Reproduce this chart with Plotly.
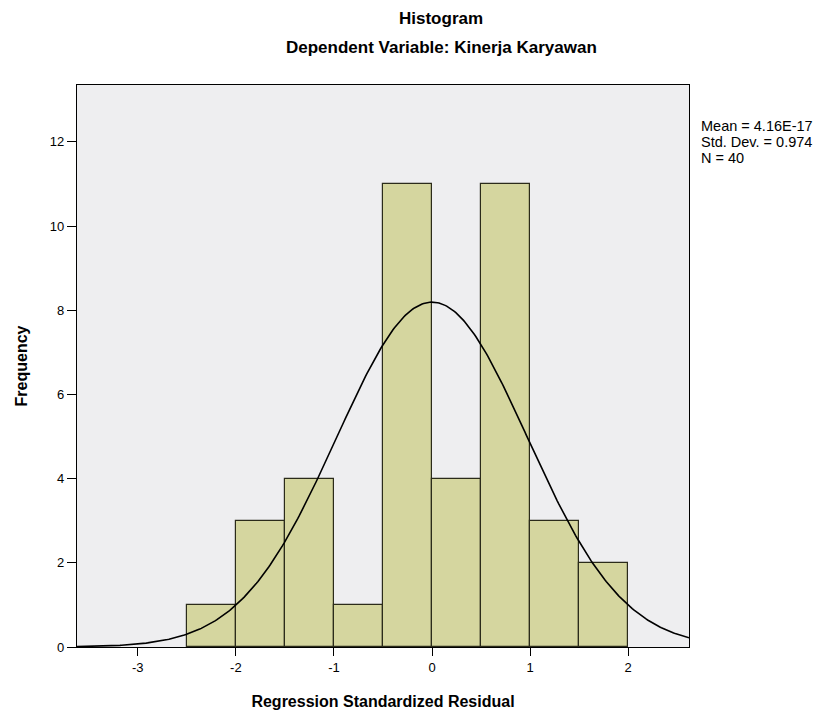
import numpy as np
import plotly.graph_objects as go

# Histogram bins (left edges) and counts
bin_starts = [-2.5, -2.0, -1.5, -1.0, -0.5, 0.0, 0.5, 1.0, 1.5]
counts = [1, 3, 4, 1, 11, 4, 11, 3, 2]
bin_width = 0.5

# Summary statistics shown in the chart
mean_val = 4.16e-17
std_val = 0.974
n_val = 40
stats_lines = ["Mean = 4.16E-17", f"Std. Dev. = {std_val}", f"N = {n_val}"]

x_ticks = [-3, -2, -1, 0, 1, 2]
y_ticks = [0, 2, 4, 6, 8, 10, 12]

x_range = [-3.62, 2.62]
y_range = [0, 13.35]

centers = [s + bin_width / 2 for s in bin_starts]

# Fitted normal curve (scaled to frequency)
xc = np.linspace(x_range[0], x_range[1], 400)
yc = n_val * bin_width / (std_val * np.sqrt(2 * np.pi)) * np.exp(-0.5 * ((xc - mean_val) / std_val) ** 2)

fig = go.Figure()
fig.add_trace(go.Bar(
    x=centers, y=counts, width=bin_width,
    marker=dict(color="#D5D69F", line=dict(color="#2b2b1a", width=1.2)),
    hoverinfo="x+y", showlegend=False,
))
fig.add_trace(go.Scatter(
    x=xc, y=yc, mode="lines", line=dict(color="black", width=1.6),
    showlegend=False, hoverinfo="skip",
))

font = "Liberation Sans, Arial, sans-serif"

annotations = [
    dict(text="<b>Histogram</b>", xref="paper", yref="paper", x=0.595, y=1.0,
         yshift=67, xanchor="center", yanchor="middle", showarrow=False,
         font=dict(size=17)),
    dict(text="<b>Dependent Variable: Kinerja Karyawan</b>", xref="paper", yref="paper",
         x=0.595, y=1.0, yshift=38, xanchor="center", yanchor="middle", showarrow=False,
         font=dict(size=17)),
]
for i, line in enumerate(stats_lines):
    annotations.append(dict(
        text=line, xref="paper", yref="paper", x=1.0, y=1.0, xshift=10,
        yshift=-41 - 16 * i, xanchor="left", yanchor="middle", align="left",
        showarrow=False, font=dict(size=14.5)))

fig.update_layout(
    width=811, height=702,
    margin=dict(l=69, r=130, t=77, b=63),
    paper_bgcolor="white",
    plot_bgcolor="#EEEEF0",
    font=dict(family=font, color="black", size=13),
    bargap=0,
    xaxis=dict(
        range=x_range, tickvals=x_ticks, ticktext=[str(v) for v in x_ticks],
        ticks="outside", ticklen=8, tickwidth=1, tickcolor="black",
        showline=True, linecolor="black", linewidth=1.3, mirror=True,
        showgrid=False, zeroline=False, automargin=False,
        tickfont=dict(size=13),
        title=dict(text="<b>Regression Standardized Residual</b>", font=dict(size=16), standoff=24),
    ),
    yaxis=dict(
        range=y_range, tickvals=y_ticks, ticktext=[str(v) for v in y_ticks],
        ticks="outside", ticklen=9, tickwidth=1, tickcolor="black",
        showline=True, linecolor="black", linewidth=1.3, mirror=True,
        showgrid=False, zeroline=False, automargin=False,
        tickfont=dict(size=13),
        title=dict(text="<b>Frequency</b>", font=dict(size=16), standoff=18),
    ),
    annotations=annotations,
)

fig.write_html("out.html")
